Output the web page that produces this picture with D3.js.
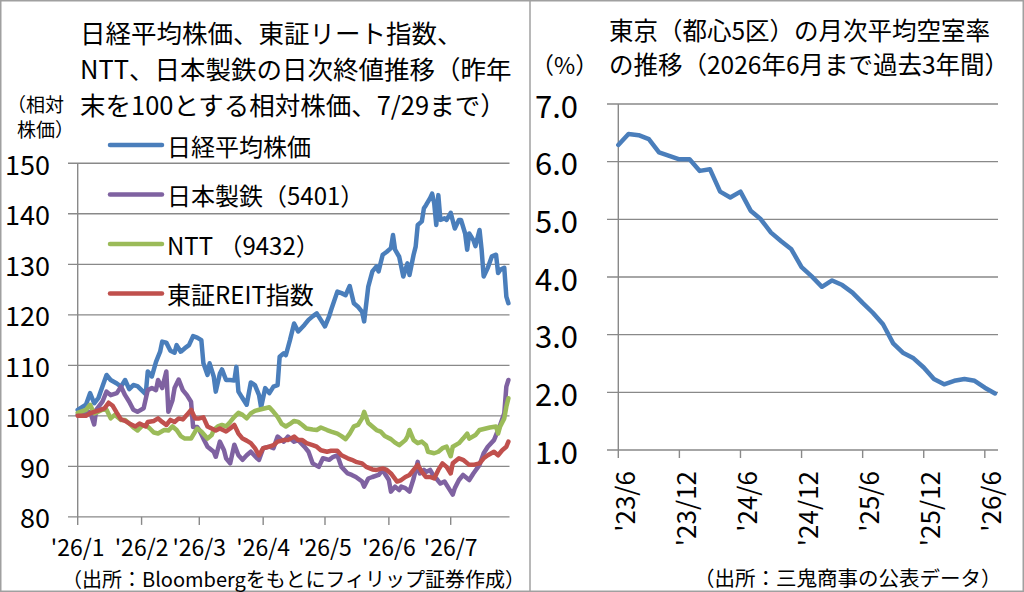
<!DOCTYPE html>
<html>
<head>
<meta charset="utf-8">
<script src="https://cdn.jsdelivr.net/npm/d3@7"></script>
<style>
  html, body { margin: 0; padding: 0; background: #fff; }
  svg { display: block; font-family: "Noto Sans CJK JP", "Noto Sans", sans-serif; }
</style>
</head>
<body>
<div id="chart"></div>
<script>
// ---- data: left panel (close, end of last year = 100) ----
const nikkei = [["1/1",101.2],["1/5",102.2],["1/7",104.5],["1/9",102.5],["1/11",103.5],["1/13",105.8],["1/15",108.1],["1/17",107.1],["1/20",106.4],["1/22",105.8],["1/24",107.1],["1/26",105.3],["1/28",106.1],["1/30",105.9],["2/1",105.1],["2/3",104.3],["2/4",108.8],["2/6",107.8],["2/8",110.7],["2/10",112.7],["2/11",114.7],["2/13",114.5],["2/15",112.9],["2/17",112.5],["2/18",114.0],["2/20",112.7],["2/22",113.4],["2/24",114.0],["2/26",115.8],["2/28",115.5],["3/2",115.0],["3/3",110.4],["3/5",108.1],["3/6",110.4],["3/8",107.8],["3/9",104.8],["3/11",108.4],["3/12",109.2],["3/14",107.1],["3/16",107.1],["3/18",107.0],["3/19",109.7],["3/20",104.8],["3/22",103.5],["3/24",102.2],["3/26",106.6],["3/28",106.1],["3/30",104.1],["3/31",101.7],["4/2",105.5],["4/4",104.5],["4/6",105.8],["4/8",106.1],["4/9",111.7],["4/11",112.4],["4/12",112.0],["4/14",115.0],["4/16",118.3],["4/18",116.7],["4/21",118.0],["4/23",119.0],["4/25",119.7],["4/27",120.3],["4/29",119.0],["5/1",117.7],["5/3",119.7],["5/4",121.0],["5/7",124.6],["5/9",124.3],["5/11",123.9],["5/13",125.7],["5/15",122.3],["5/17",121.6],["5/19",120.6],["5/20",118.7],["5/22",125.6],["5/24",128.6],["5/26",129.6],["5/27",128.6],["5/29",131.9],["5/31",132.5],["6/2",133.2],["6/3",135.8],["6/4",132.9],["6/6",131.5],["6/8",127.6],["6/10",130.2],["6/11",127.9],["6/13",131.9],["6/14",133.5],["6/15",137.8],["6/17",138.5],["6/18",141.1],["6/19",141.7],["6/21",143.1],["6/22",144.0],["6/23",142.1],["6/24",137.8],["6/25",143.7],["6/26",138.8],["6/28",139.1],["6/29",138.8],["7/1",140.2],["7/3",137.1],["7/5",138.8],["7/6",138.8],["7/8",136.1],["7/9",132.9],["7/10",136.1],["7/12",134.8],["7/13",133.6],["7/15",136.8],["7/16",132.9],["7/17",127.6],["7/19",129.3],["7/21",131.6],["7/23",131.9],["7/24",128.3],["7/25",128.9],["7/27",129.3],["7/28",123.6],["7/29",122.3]];

const nipponSteel = [["1/1",100.2],["1/5",100.5],["1/7",100.8],["1/9",98.3],["1/10",101.2],["1/13",102.8],["1/15",104.8],["1/17",104.1],["1/20",104.5],["1/22",105.8],["1/24",104.1],["1/26",102.8],["1/28",101.2],["1/30",100.8],["2/2",101.5],["2/4",105.1],["2/6",105.5],["2/8",105.1],["2/9",107.1],["2/11",105.5],["2/13",108.8],["2/14",100.8],["2/16",103.1],["2/17",105.5],["2/19",107.2],["2/21",105.1],["2/23",104.1],["2/25",102.8],["2/26",97.8],["2/28",97.8],["3/1",97.2],["3/3",95.5],["3/5",93.9],["3/8",92.9],["3/9",91.9],["3/11",94.9],["3/13",93.2],["3/14",91.6],["3/16",90.6],["3/18",94.3],["3/20",92.2],["3/22",91.3],["3/24",92.2],["3/26",92.9],["3/29",91.6],["3/30",91.3],["4/1",93.6],["4/4",93.9],["4/6",93.6],["4/8",95.9],["4/11",94.9],["4/13",95.9],["4/16",94.9],["4/18",95.2],["4/21",93.9],["4/23",92.9],["4/25",90.6],["4/28",89.9],["4/30",91.6],["5/3",91.3],["5/5",91.9],["5/7",92.2],["5/9",89.9],["5/12",88.6],["5/14",88.3],["5/16",87.9],["5/19",87.0],["5/20",86.0],["5/22",87.6],["5/24",87.9],["5/27",88.3],["5/29",89.3],["5/30",88.6],["6/1",87.3],["6/2",85.0],["6/4",86.0],["6/6",85.3],["6/7",86.0],["6/9",85.7],["6/11",85.0],["6/13",87.6],["6/15",90.9],["6/16",88.6],["6/18",89.3],["6/19",88.9],["6/21",89.3],["6/23",87.9],["6/24",87.6],["6/26",86.6],["6/28",87.0],["6/30",85.7],["7/2",84.4],["7/3",85.7],["7/5",87.3],["7/7",88.3],["7/10",87.3],["7/12",88.6],["7/15",90.3],["7/17",92.6],["7/19",93.9],["7/22",95.2],["7/23",96.2],["7/25",98.2],["7/27",100.5],["7/28",105.8],["7/29",107.1]];

const ntt = [["1/1",100.6],["1/5",101.2],["1/7",102.2],["1/9",100.5],["1/11",100.8],["1/13",101.2],["1/15",101.2],["1/17",99.5],["1/19",100.2],["1/22",99.2],["1/24",99.2],["1/26",98.5],["1/28",97.7],["1/30",97.1],["2/1",97.9],["2/3",98.2],["2/5",97.5],["2/7",96.7],["2/9",96.5],["2/12",97.2],["2/14",97.1],["2/16",97.9],["2/18",97.2],["2/20",96.0],["2/22",95.5],["2/25",95.5],["2/27",96.9],["2/28",97.5],["3/2",96.9],["3/5",95.5],["3/7",96.2],["3/8",97.2],["3/10",97.9],["3/12",98.2],["3/14",97.9],["3/16",98.8],["3/18",99.8],["3/20",100.6],["3/22",100.2],["3/24",99.5],["3/26",100.5],["3/28",101.0],["3/30",101.2],["4/1",101.4],["4/4",101.7],["4/6",100.8],["4/8",99.8],["4/10",98.4],["4/12",97.9],["4/14",98.4],["4/16",99.0],["4/18",98.8],["4/20",98.2],["4/22",97.5],["4/25",97.3],["4/27",97.2],["4/29",97.7],["5/2",97.2],["5/4",96.9],["5/7",96.5],["5/9",96.0],["5/11",95.4],["5/13",96.5],["5/15",97.9],["5/17",98.2],["5/19",99.5],["5/20",100.8],["5/22",98.6],["5/24",97.9],["5/26",97.2],["5/28",96.9],["5/30",96.0],["6/2",95.4],["6/4",94.7],["6/6",94.2],["6/9",95.2],["6/10",95.9],["6/11",97.2],["6/13",95.2],["6/15",94.6],["6/17",94.9],["6/19",94.2],["6/20",92.9],["6/23",92.6],["6/25",92.9],["6/27",93.6],["6/29",93.9],["7/1",92.0],["7/2",93.9],["7/5",94.6],["7/7",95.5],["7/9",96.5],["7/10",95.5],["7/13",96.2],["7/15",97.2],["7/18",97.5],["7/20",97.7],["7/23",97.9],["7/24",96.5],["7/25",97.9],["7/27",99.5],["7/28",101.8],["7/29",103.5]];

const reit = [["1/1",100.0],["1/5",100.0],["1/7",100.5],["1/9",100.8],["1/12",101.2],["1/14",101.5],["1/16",102.6],["1/18",102.0],["1/20",100.6],["1/22",99.3],["1/24",99.0],["1/26",98.5],["1/29",97.9],["1/31",98.5],["2/3",97.9],["2/4",98.8],["2/7",99.0],["2/9",99.5],["2/11",98.8],["2/13",98.2],["2/15",99.2],["2/17",98.8],["2/19",99.5],["2/21",99.3],["2/23",100.2],["2/25",101.2],["2/27",99.5],["3/1",99.5],["3/3",99.7],["3/5",97.9],["3/7",97.5],["3/9",97.1],["3/11",97.5],["3/14",96.9],["3/16",97.5],["3/18",98.2],["3/20",96.5],["3/22",95.5],["3/24",95.1],["3/26",94.6],["3/28",93.6],["3/30",92.2],["4/1",93.6],["4/4",93.9],["4/6",94.2],["4/8",94.9],["4/11",95.2],["4/13",95.2],["4/16",95.9],["4/18",95.2],["4/20",95.2],["4/22",94.6],["4/25",94.2],["4/27",93.9],["4/29",93.2],["5/2",92.9],["5/4",93.1],["5/7",93.1],["5/9",92.2],["5/12",91.6],["5/14",91.3],["5/16",90.9],["5/19",90.6],["5/21",89.9],["5/24",89.4],["5/26",89.3],["5/29",89.6],["5/31",89.3],["6/2",88.6],["6/5",87.0],["6/7",87.3],["6/9",87.9],["6/11",88.3],["6/13",89.3],["6/15",90.3],["6/17",88.9],["6/19",87.9],["6/21",87.9],["6/23",87.6],["6/25",89.3],["6/27",90.6],["6/29",89.9],["7/1",88.6],["7/2",90.6],["7/5",91.6],["7/7",91.3],["7/10",90.3],["7/12",90.3],["7/15",90.6],["7/17",91.6],["7/19",92.2],["7/22",92.9],["7/24",92.2],["7/26",93.2],["7/28",93.9],["7/29",94.9]];

const seriesNames = ['日経平均株価', '日本製鉄（5401）', 'NTT （9432）', '東証REIT指数'];
const seriesColors = ['#4a7ebb', '#7f62a1', '#9bbb59', '#c0504d'];
const leftYTicks = [80, 90, 100, 110, 120, 130, 140, 150];
const monthTicks = ['1/1', '2/1', '3/1', '4/1', '5/1', '6/1', '7/1'];
const monthLabels = ["'26/1", "'26/2", "'26/3", "'26/4", "'26/5", "'26/6", "'26/7"];

// ---- data: right panel (monthly vacancy rate, %) ----
const vacancyRate = [6.29, 6.48, 6.46, 6.39, 6.16, 6.10, 6.04, 6.04, 5.84, 5.87, 5.48, 5.38, 5.48, 5.15, 5.00, 4.77, 4.62, 4.48, 4.17, 4.01, 3.83, 3.94, 3.86, 3.73, 3.55, 3.38, 3.18, 2.85, 2.68, 2.59, 2.43, 2.23, 2.14, 2.20, 2.23, 2.20, 2.08, 1.98];
const rightYTicks = [1, 2, 3, 4, 5, 6, 7];
const rightXTickIdx = [0, 6, 12, 18, 24, 30, 36];
const rightXLabels = ["'23/6", "'23/12", "'24/6", "'24/12", "'25/6", "'25/12", "'26/6"];

const width = 1024;
const height = 592;
const gridColor = '#898989';

const parseDay = s => d3.timeParse('%Y/%m/%d')('2026/' + s);

const svg = d3.select('#chart')
  .append('svg')
  .attr('width', width)
  .attr('height', height);

// panel frames
svg.append('rect')
  .attr('x', 0.75).attr('y', 0.75)
  .attr('width', width - 1.5).attr('height', height - 1.5)
  .attr('fill', 'none').attr('stroke', '#a0a0a0').attr('stroke-width', 1.5);
svg.append('line')
  .attr('x1', 530).attr('x2', 530).attr('y1', 0).attr('y2', height)
  .attr('stroke', '#a0a0a0').attr('stroke-width', 1.5);

// ================= left panel =================
const x1 = d3.scaleTime()
  .domain([parseDay('1/1'), parseDay('7/29')])
  .range([77.7, 508.4]);
const y1 = d3.scaleLinear().domain([80, 150]).range([516.9, 163.3]);

const left = svg.append('g').attr('id', 'left-panel');

left.selectAll('line.grid')
  .data(leftYTicks)
  .enter()
  .append('line')
  .attr('class', 'grid')
  .attr('x1', 68).attr('x2', 509.5)
  .attr('y1', d => y1(d)).attr('y2', d => y1(d))
  .attr('stroke', gridColor).attr('stroke-width', 1.4);

left.append('line')
  .attr('x1', x1.range()[0]).attr('x2', x1.range()[0])
  .attr('y1', y1(150)).attr('y2', y1(80))
  .attr('stroke', gridColor).attr('stroke-width', 1.4);

left.selectAll('line.xtick')
  .data(monthTicks)
  .enter()
  .append('line')
  .attr('class', 'xtick')
  .attr('x1', d => x1(parseDay(d))).attr('x2', d => x1(parseDay(d)))
  .attr('y1', y1(80)).attr('y2', y1(80) + 8)
  .attr('stroke', gridColor).attr('stroke-width', 1.4);

left.selectAll('text.ylab')
  .data(leftYTicks)
  .enter()
  .append('text')
  .attr('class', 'ylab')
  .attr('x', 50)
  .attr('y', d => y1(d))
  .attr('dominant-baseline', 'central')
  .attr('text-anchor', 'end')
  .attr('font-size', 27)
  .text(d => d);

left.selectAll('text.xlab')
  .data(monthTicks)
  .enter()
  .append('text')
  .attr('class', 'xlab')
  .attr('x', d => x1(parseDay(d)))
  .attr('y', 546)
  .attr('dominant-baseline', 'central')
  .attr('text-anchor', 'middle')
  .attr('font-size', 23)
  .text((d, i) => monthLabels[i]);

const line1 = d3.line()
  .x(d => x1(parseDay(d[0])))
  .y(d => y1(d[1]))
  .curve(d3.curveLinear);

left.selectAll('path.series')
  .data([nikkei, nipponSteel, ntt, reit])
  .enter()
  .append('path')
  .attr('class', 'series')
  .attr('d', line1)
  .attr('fill', 'none')
  .attr('stroke', (d, i) => seriesColors[i])
  .attr('stroke-width', 4.5)
  .attr('stroke-linejoin', 'round')
  .attr('stroke-linecap', 'round');

// legend
const legend = left.selectAll('g.legend')
  .data(seriesNames)
  .enter()
  .append('g')
  .attr('class', 'legend')
  .attr('transform', (d, i) => `translate(110, ${145 + i * 49.5})`);

legend.append('line')
  .attr('x1', 0).attr('x2', 52)
  .attr('stroke', (d, i) => seriesColors[i])
  .attr('stroke-width', 4.5)
  .attr('stroke-linecap', 'round');

legend.append('text')
  .attr('x', 57)
  .attr('dominant-baseline', 'central')
  .attr('font-size', 24)
  .text(d => d);

// titles
const leftTitle = ['日経平均株価、東証リート指数、', 'NTT、日本製鉄の日次終値推移（昨年', '末を100とする相対株価、7/29まで）'];
left.selectAll('text.title')
  .data(leftTitle)
  .enter()
  .append('text')
  .attr('class', 'title')
  .attr('x', 80)
  .attr('y', (d, i) => 31 + i * 36)
  .attr('dominant-baseline', 'central')
  .attr('font-size', 25.5)
  .text(d => d);

left.selectAll('text.unit')
  .data(['（相対', '株価）'])
  .enter()
  .append('text')
  .attr('class', 'unit')
  .attr('x', (d, i) => i == 0 ? 7 : 17)
  .attr('y', (d, i) => 103 + i * 25)
  .attr('dominant-baseline', 'central')
  .attr('font-size', 19)
  .text(d => d);

left.append('text')
  .attr('x', 62).attr('y', 578)
  .attr('dominant-baseline', 'central')
  .attr('font-size', 20)
  .text('（出所：Bloombergをもとにフィリップ証券作成）');

// ================= right panel =================
const x2 = d3.scaleLinear().domain([0, vacancyRate.length - 1]).range([618.3, 995]);
const y2 = d3.scaleLinear().domain([1, 7]).range([450, 104]);

const right = svg.append('g').attr('id', 'right-panel');

right.selectAll('line.grid')
  .data(rightYTicks)
  .enter()
  .append('line')
  .attr('class', 'grid')
  .attr('x1', 607).attr('x2', 998)
  .attr('y1', d => y2(d)).attr('y2', d => y2(d))
  .attr('stroke', gridColor).attr('stroke-width', 1.4);

right.append('line')
  .attr('x1', x2(0)).attr('x2', x2(0))
  .attr('y1', y2(7)).attr('y2', y2(1))
  .attr('stroke', gridColor).attr('stroke-width', 1.4);

right.selectAll('line.xtick')
  .data(rightXTickIdx)
  .enter()
  .append('line')
  .attr('class', 'xtick')
  .attr('x1', d => x2(d)).attr('x2', d => x2(d))
  .attr('y1', y2(1)).attr('y2', y2(1) + 8)
  .attr('stroke', gridColor).attr('stroke-width', 1.4);

right.selectAll('text.ylab')
  .data(rightYTicks)
  .enter()
  .append('text')
  .attr('class', 'ylab')
  .attr('x', 578)
  .attr('y', d => y2(d))
  .attr('dominant-baseline', 'central')
  .attr('text-anchor', 'end')
  .attr('font-size', 31)
  .text(d => d3.format('.1f')(d));

right.selectAll('text.xlab')
  .data(rightXTickIdx)
  .enter()
  .append('text')
  .attr('class', 'xlab')
  .attr('transform', d => `translate(${x2(d + 0.5)}, 471) rotate(-90)`)
  .attr('dominant-baseline', 'central')
  .attr('text-anchor', 'end')
  .attr('font-size', 26)
  .text((d, i) => rightXLabels[i]);

const line2 = d3.line()
  .x((d, i) => x2(i))
  .y(d => y2(d));

right.append('path')
  .datum(vacancyRate)
  .attr('d', line2)
  .attr('fill', 'none')
  .attr('stroke', seriesColors[0])
  .attr('stroke-width', 4.5)
  .attr('stroke-linejoin', 'round')
  .attr('stroke-linecap', 'round');

const rightTitle = ['東京（都心5区）の月次平均空室率', 'の推移（2026年6月まで過去3年間）'];
right.selectAll('text.title')
  .data(rightTitle)
  .enter()
  .append('text')
  .attr('class', 'title')
  .attr('x', 609)
  .attr('y', (d, i) => 29.5 + i * 34)
  .attr('dominant-baseline', 'central')
  .attr('font-size', 24.5)
  .text(d => d);

right.append('text')
  .attr('x', 531).attr('y', 63.5)
  .attr('dominant-baseline', 'central')
  .attr('font-size', 23)
  .text('（%）');

right.append('text')
  .attr('x', 694).attr('y', 577)
  .attr('dominant-baseline', 'central')
  .attr('font-size', 20.5)
  .text('（出所：三鬼商事の公表データ）');
</script>
</body>
</html>
